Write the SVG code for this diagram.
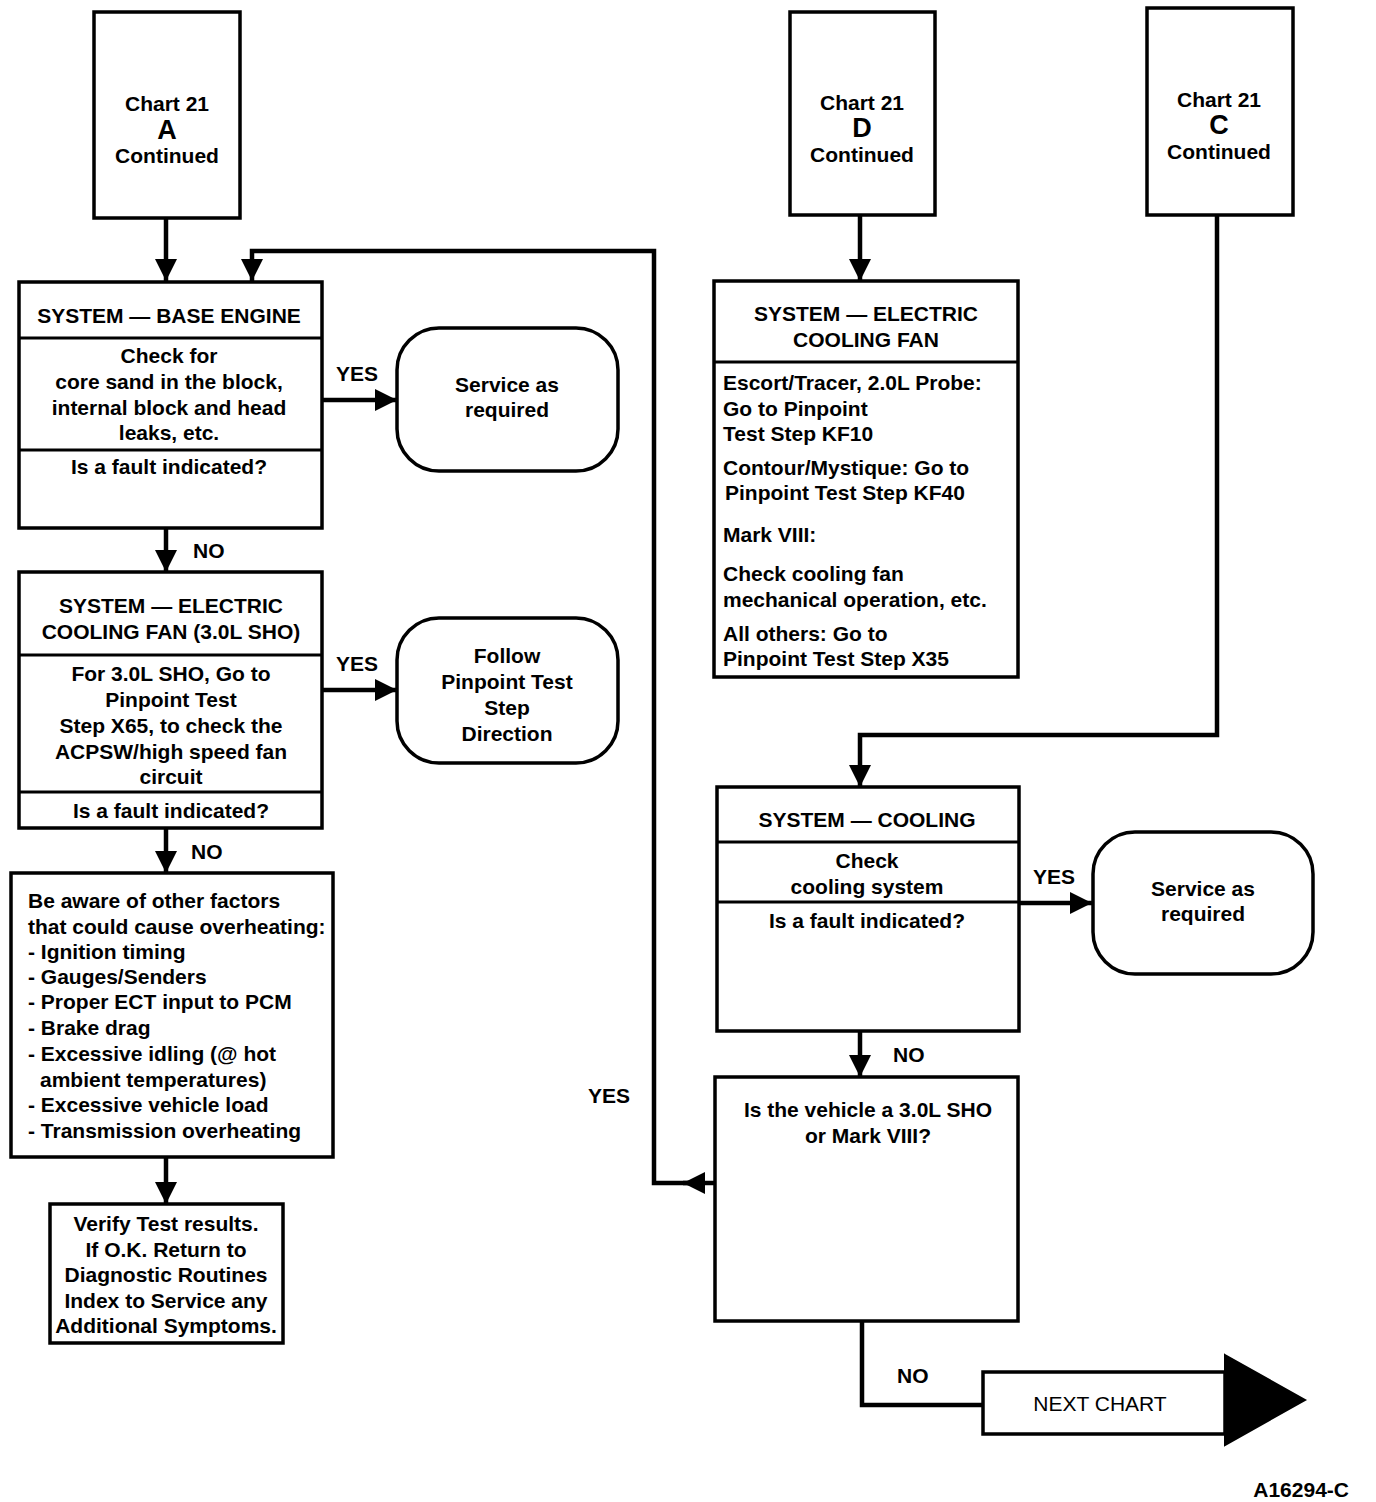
<svg xmlns="http://www.w3.org/2000/svg" width="1376" height="1502" viewBox="0 0 1376 1502">
<defs>
<style>
.box{fill:#fff;stroke:#000;stroke-width:3.5}
.div{stroke:#000;stroke-width:3}
.t{font-family:"Liberation Sans",Arial,sans-serif;font-size:21px;font-weight:bold;fill:#000;text-anchor:middle}
.l{text-anchor:start}
.big{font-size:27px}
.c{fill:none;stroke:#000;stroke-width:4.5}
.lbl{font-family:"Liberation Sans",Arial,sans-serif;font-size:21px;font-weight:bold;fill:#000}
</style>
<marker id="ah" viewBox="0 0 10 10" refX="10" refY="5" markerWidth="22" markerHeight="22" markerUnits="userSpaceOnUse" orient="auto">
<path d="M0,0 L10,5 L0,10 z" fill="#000"/>
</marker>
</defs>
<rect width="1376" height="1502" fill="#fff"/>

<g id="connectors">
<line class="c" x1="166" y1="218" x2="166" y2="281" marker-end="url(#ah)"/>
<line class="c" x1="322" y1="400" x2="397" y2="400" marker-end="url(#ah)"/>
<line class="c" x1="166" y1="528" x2="166" y2="572" marker-end="url(#ah)"/>
<line class="c" x1="322" y1="690" x2="397" y2="690" marker-end="url(#ah)"/>
<line class="c" x1="166" y1="828" x2="166" y2="873" marker-end="url(#ah)"/>
<line class="c" x1="166" y1="1157" x2="166" y2="1204" marker-end="url(#ah)"/>
<line class="c" x1="860" y1="215" x2="860" y2="281" marker-end="url(#ah)"/>
<polyline class="c" points="1217,215 1217,735 860,735 860,787" marker-end="url(#ah)"/>
<line class="c" x1="1019" y1="903" x2="1092" y2="903" marker-end="url(#ah)"/>
<line class="c" x1="860" y1="1031" x2="860" y2="1077" marker-end="url(#ah)"/>
<polyline class="c" points="715,1183 683,1183" marker-end="url(#ah)"/>
<polyline class="c" points="690,1183 654,1183 654,251 252,251 252,281" marker-end="url(#ah)"/>
<polyline class="c" points="862,1321 862,1405 983,1405"/>
<text class="lbl" x="336" y="381">YES</text>
<text class="lbl" x="193" y="558">NO</text>
<text class="lbl" x="336" y="671">YES</text>
<text class="lbl" x="191" y="859">NO</text>
<text class="lbl" x="1033" y="884">YES</text>
<text class="lbl" x="893" y="1062">NO</text>
<text class="lbl" x="588" y="1103">YES</text>
<text class="lbl" x="897" y="1383">NO</text>
</g>

<g id="chartA">
<rect class="box" x="94" y="12" width="146" height="206"/>
<text class="t" x="167" y="111">Chart 21</text>
<text class="t big" x="167" y="139">A</text>
<text class="t" x="167" y="163">Continued</text>
</g>

<g id="chartD">
<rect class="box" x="790" y="12" width="145" height="203"/>
<text class="t" x="862" y="110">Chart 21</text>
<text class="t big" x="862" y="137">D</text>
<text class="t" x="862" y="162">Continued</text>
</g>

<g id="chartC">
<rect class="box" x="1147" y="8" width="146" height="207"/>
<text class="t" x="1219" y="107">Chart 21</text>
<text class="t big" x="1219" y="134">C</text>
<text class="t" x="1219" y="159">Continued</text>
</g>

<g id="baseEngine">
<rect class="box" x="19" y="282" width="303" height="246"/>
<line class="div" x1="19" y1="338" x2="322" y2="338"/>
<line class="div" x1="19" y1="450" x2="322" y2="450"/>
<text class="t" x="169" y="323">SYSTEM — BASE ENGINE</text>
<text class="t" x="169" y="363">Check for</text>
<text class="t" x="169" y="389">core sand in the block,</text>
<text class="t" x="169" y="415">internal block and head</text>
<text class="t" x="169" y="440">leaks, etc.</text>
<text class="t" x="169" y="474">Is a fault indicated?</text>
</g>

<g id="service1">
<rect class="box" x="397" y="328" width="221" height="143" rx="42"/>
<text class="t" x="507" y="392">Service as</text>
<text class="t" x="507" y="417">required</text>
</g>

<g id="fanSHO">
<rect class="box" x="19" y="572" width="303" height="256"/>
<line class="div" x1="19" y1="655" x2="322" y2="655"/>
<line class="div" x1="19" y1="792" x2="322" y2="792"/>
<text class="t" x="171" y="613">SYSTEM — ELECTRIC</text>
<text class="t" x="171" y="639">COOLING FAN (3.0L SHO)</text>
<text class="t" x="171" y="681">For 3.0L SHO, Go to</text>
<text class="t" x="171" y="707">Pinpoint Test</text>
<text class="t" x="171" y="733">Step X65, to check the</text>
<text class="t" x="171" y="759">ACPSW/high speed fan</text>
<text class="t" x="171" y="784">circuit</text>
<text class="t" x="171" y="818">Is a fault indicated?</text>
</g>

<g id="follow">
<rect class="box" x="397" y="618" width="221" height="145" rx="42"/>
<text class="t" x="507" y="663">Follow</text>
<text class="t" x="507" y="689">Pinpoint Test</text>
<text class="t" x="507" y="715">Step</text>
<text class="t" x="507" y="741">Direction</text>
</g>

<g id="aware">
<rect class="box" x="11" y="873" width="322" height="284"/>
<text class="t l" x="28" y="908">Be aware of other factors</text>
<text class="t l" x="28" y="934">that could cause overheating:</text>
<text class="t l" x="28" y="959">- Ignition timing</text>
<text class="t l" x="28" y="984">- Gauges/Senders</text>
<text class="t l" x="28" y="1009">- Proper ECT input to PCM</text>
<text class="t l" x="28" y="1035">- Brake drag</text>
<text class="t l" x="28" y="1061">- Excessive idling (@ hot</text>
<text class="t l" x="40" y="1087">ambient temperatures)</text>
<text class="t l" x="28" y="1112">- Excessive vehicle load</text>
<text class="t l" x="28" y="1138">- Transmission overheating</text>
</g>

<g id="verify">
<rect class="box" x="50" y="1204" width="233" height="139"/>
<text class="t" x="166" y="1231">Verify Test results.</text>
<text class="t" x="166" y="1257">If O.K. Return to</text>
<text class="t" x="166" y="1282">Diagnostic Routines</text>
<text class="t" x="166" y="1308">Index to Service any</text>
<text class="t" x="166" y="1333">Additional Symptoms.</text>
</g>

<g id="fanElectric">
<rect class="box" x="714" y="281" width="304" height="396"/>
<line class="div" x1="714" y1="362" x2="1018" y2="362"/>
<text class="t" x="866" y="321">SYSTEM — ELECTRIC</text>
<text class="t" x="866" y="347">COOLING FAN</text>
<text class="t l" x="723" y="390">Escort/Tracer, 2.0L Probe:</text>
<text class="t l" x="723" y="416">Go to  Pinpoint</text>
<text class="t l" x="723" y="441">Test Step KF10</text>
<text class="t l" x="723" y="475">Contour/Mystique: Go to</text>
<text class="t l" x="725" y="500">Pinpoint Test Step KF40</text>
<text class="t l" x="723" y="542">Mark VIII:</text>
<text class="t l" x="723" y="581">Check cooling fan</text>
<text class="t l" x="723" y="607">mechanical operation, etc.</text>
<text class="t l" x="723" y="641">All others: Go to</text>
<text class="t l" x="723" y="666">Pinpoint Test Step X35</text>
</g>

<g id="cooling">
<rect class="box" x="717" y="787" width="302" height="244"/>
<line class="div" x1="717" y1="842" x2="1019" y2="842"/>
<line class="div" x1="717" y1="902" x2="1019" y2="902"/>
<text class="t" x="867" y="827">SYSTEM — COOLING</text>
<text class="t" x="867" y="868">Check</text>
<text class="t" x="867" y="894">cooling system</text>
<text class="t" x="867" y="928">Is a fault indicated?</text>
</g>

<g id="service2">
<rect class="box" x="1093" y="832" width="220" height="142" rx="42"/>
<text class="t" x="1203" y="896">Service as</text>
<text class="t" x="1203" y="921">required</text>
</g>

<g id="vehicle">
<rect class="box" x="715" y="1077" width="303" height="244"/>
<text class="t" x="868" y="1117">Is the vehicle a 3.0L SHO</text>
<text class="t" x="868" y="1143">or Mark VIII?</text>
</g>

<g id="nextChart">
<rect class="box" x="983" y="1372" width="242" height="62"/>
<polygon points="1225,1355 1305,1400 1225,1445" fill="#000" stroke="#000" stroke-width="2"/>
<text class="t" x="1100" y="1411" style="font-weight:normal">NEXT  CHART</text>
</g>

<text class="lbl" x="1349" y="1497" text-anchor="end" font-size="20">A16294-C</text>
</svg>
